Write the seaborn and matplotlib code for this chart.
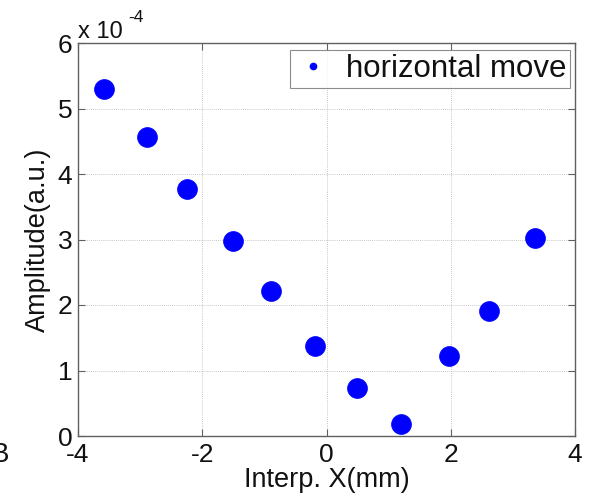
import matplotlib
matplotlib.use("Agg")
import matplotlib.pyplot as plt
import seaborn as sns
import pandas as pd
from matplotlib.lines import Line2D
from matplotlib.ticker import FuncFormatter

# Measured amplitude versus interpolated X position
interp_x = [-3.58, -2.89, -2.25, -1.50, -0.90, -0.18, 0.49, 1.20, 1.97, 2.62, 3.36]
amplitude = [5.30e-4, 4.57e-4, 3.77e-4, 2.97e-4, 2.22e-4, 1.38e-4,
             0.74e-4, 0.19e-4, 1.22e-4, 1.91e-4, 3.02e-4]
series_label = "horizontal move"
x_ticks = [-4, -2, 0, 2, 4]
y_ticks = [0, 1e-4, 2e-4, 3e-4, 4e-4, 5e-4, 6e-4]

sns.set_theme(style="white")
plt.rcParams["font.family"] = ["Liberation Sans", "DejaVu Sans"]

df = pd.DataFrame({"x": interp_x, "amp": amplitude})

fig = plt.figure(figsize=(5.95, 4.99), dpi=100)
ax = fig.add_axes([78 / 595, 1 - 436 / 499, (575 - 78) / 595, (436 - 43) / 499])

sns.scatterplot(data=df, x="x", y="amp", ax=ax, color="#0000ff",
                s=205, edgecolor="#0000ff", linewidth=0.5, zorder=3, legend=False)

ax.set_xlim(-4, 4)
ax.set_ylim(0, 6e-4)
ax.set_xticks(x_ticks)
ax.set_yticks(y_ticks)
ax.xaxis.set_major_formatter(FuncFormatter(lambda v, p: f"{v:.0f}"))
ax.yaxis.set_major_formatter(FuncFormatter(lambda v, p: f"{v * 1e4:.0f}"))

ax.grid(True, linestyle=(0, (1, 1.5)), color="#b4b4b4", linewidth=0.6)
ax.set_axisbelow(True)
for sp in ax.spines.values():
    sp.set_visible(True)
    sp.set_color("#606060")
    sp.set_linewidth(1.0)

ax.tick_params(axis="both", which="major", direction="in", length=5, width=0.8,
               color="#606060", labelsize=19, labelcolor="#111111",
               top=True, right=True, bottom=True, left=True)
ax.tick_params(axis="x", pad=5)
ax.tick_params(axis="y", pad=4)

ax.set_xlabel("Interp. X(mm)", fontsize=19.5, color="#111111", labelpad=0)
ax.set_ylabel("Amplitude(a.u.)", fontsize=19.5, color="#111111", labelpad=5)

# Scale factor above the y axis
fig.text(78 / 595, 1 - 38 / 499, "x 10", fontsize=17, color="#111111",
         ha="left", va="baseline")
fig.text(128 / 595, 1 - 22 / 499, "-4", fontsize=12.5, color="#111111",
         ha="left", va="baseline")

handle = Line2D([], [], linestyle="none", marker="o", markersize=4.5,
                markerfacecolor="#0000ff", markeredgecolor="#0000ff")
leg = ax.legend([handle], [series_label], loc="upper right",
                bbox_to_anchor=(570 / 595, 1 - 50 / 499),
                bbox_transform=fig.transFigure, borderaxespad=0,
                fontsize=22.5, frameon=True, fancybox=False,
                handlelength=1.2, handletextpad=0.45, borderpad=0.12)
leg.get_frame().set_edgecolor("#707070")
leg.get_frame().set_linewidth(0.8)
for t in leg.get_texts():
    t.set_color("#111111")

# Panel letter at the lower-left edge
fig.text(-9 / 595, 1 - 462 / 499, "B", fontsize=20, color="#111111",
         ha="left", va="baseline")

fig.savefig("out.png", dpi=100)
